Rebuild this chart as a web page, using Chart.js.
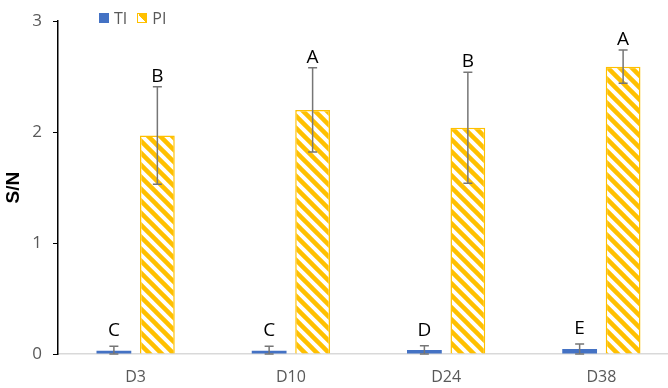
<!DOCTYPE html>
<html lang="en">

<head>
    <meta charset="UTF-8">
    <script src="https://cdn.jsdelivr.net/npm/chart.js"></script>
    <title>S/N by day</title>
    <style>
        html, body { margin: 0; padding: 0; background: #fff; overflow: hidden; width: 668px; height: 388px; }
        #wrap { position: relative; width: 680px; height: 388px; }
        #legend { position: absolute; left: 99px; top: 7px; font: 16px "Open Sans", "Liberation Sans", sans-serif; color: #595959; display: flex; align-items: center; }
        #legend span.box { display: inline-block; width: 10px; height: 10px; margin-right: 5px; box-sizing: border-box; }
        #legend span.lbl { margin-right: 10px; }
    </style>
</head>

<body>
    <div id="wrap">
        <canvas id="chart" width="680" height="388"></canvas>
        <div id="legend">
            <span class="box" style="background:#4472C4"></span><span class="lbl">TI</span>
            <span class="box" style="border:1.5px solid #FFC000;background:linear-gradient(45deg,#fff 50%,#FFC000 50%)"></span><span class="lbl">PI</span>
        </div>
    </div>

    <script>
        // data
        const categories = ['D3', 'D10', 'D24', 'D38'];
        const tiValues = [0.03, 0.03, 0.035, 0.045];
        const tiErrors = [0.04, 0.04, 0.04, 0.045];
        const tiLetters = ['C', 'C', 'D', 'E'];
        const piValues = [1.97, 2.20, 2.04, 2.59];
        const piErrors = [0.44, 0.38, 0.50, 0.15];
        const piLetters = ['B', 'A', 'B', 'A'];
        const yTicks = [0, 1, 2, 3];

        // striped fill like Excel's wide downward diagonal
        function makeStripes(color) {
            const n = 12;
            const c = document.createElement('canvas');
            c.width = n; c.height = n;
            const g = c.getContext('2d');
            g.fillStyle = '#fff';
            g.fillRect(0, 0, n, n);
            g.strokeStyle = color;
            g.lineWidth = 4.5;
            for (let k = -1; k <= 1; k++) {
                g.beginPath();
                g.moveTo(k * n - 2, -2);
                g.lineTo(k * n + n + 2, n + 2);
                g.stroke();
            }
            return g.createPattern(c, 'repeat');
        }

        const ctx = document.getElementById('chart').getContext('2d');
        const errors = [tiErrors, piErrors];
        const letters = [tiLetters, piLetters];
        const letterGap = [10, 5];

        // error bars + significance letters
        const errorBarPlugin = {
            id: 'errorBars',
            afterDatasetsDraw(chart) {
                const c = chart.ctx;
                const y = chart.scales.y;
                chart.data.datasets.forEach((ds, di) => {
                    const meta = chart.getDatasetMeta(di);
                    meta.data.forEach((bar, i) => {
                        const v = ds.data[i];
                        const e = errors[di][i];
                        const top = y.getPixelForValue(v + e);
                        const bot = y.getPixelForValue(Math.max(0, v - e));
                        c.save();
                        c.strokeStyle = '#767676';
                        c.lineWidth = 1.5;
                        c.beginPath();
                        c.moveTo(bar.x, top); c.lineTo(bar.x, bot);
                        c.moveTo(bar.x - 4.5, top); c.lineTo(bar.x + 4.5, top);
                        c.moveTo(bar.x - 4.5, bot); c.lineTo(bar.x + 4.5, bot);
                        c.stroke();
                        c.fillStyle = '#000';
                        c.font = '19px "Open Sans", "Liberation Sans", sans-serif';
                        c.textAlign = 'center';
                        c.textBaseline = 'alphabetic';
                        c.fillText(letters[di][i], bar.x, top - letterGap[di]);
                        c.restore();
                    });
                });
            }
        };

        new Chart(ctx, {
            type: 'bar',
            data: {
                labels: categories,
                datasets: [{
                    label: 'TI',
                    data: tiValues,
                    backgroundColor: '#4472C4',
                    borderWidth: 0,
                    barPercentage: 0.8,
                    categoryPercentage: 0.56
                }, {
                    label: 'PI',
                    data: piValues,
                    backgroundColor: makeStripes('#FFC000'),
                    borderColor: '#FFC000',
                    borderWidth: 1.5,
                    barPercentage: 0.8,
                    categoryPercentage: 0.56
                }]
            },
            options: {
                responsive: false,
                animation: false,
                layout: { padding: { top: 11, right: 1, left: 0, bottom: 0 } },
                plugins: {
                    legend: { display: false },
                    tooltip: { enabled: false }
                },
                scales: {
                    x: {
                        grid: { display: false, drawTicks: false },
                        border: { color: '#D9D9D9', width: 1.5 },
                        ticks: { color: '#595959', font: { size: 16, family: '"Open Sans", "Liberation Sans", sans-serif' }, padding: 14 },
                        afterFit(s) { s.height = 34; }
                    },
                    y: {
                        min: 0,
                        max: 3,
                        afterBuildTicks(s) { s.ticks = yTicks.map(v => ({ value: v })); },
                        grid: { drawOnChartArea: false, drawTicks: true, tickLength: 5, color: '#000' },
                        border: { color: '#000', width: 1.5 },
                        ticks: { color: '#595959', font: { size: 17, family: '"Open Sans", "Liberation Sans", sans-serif' }, padding: 11 },
                        title: {
                            display: true,
                            text: 'S/N',
                            color: '#000',
                            font: { size: 19, weight: 'bold', family: '"Liberation Sans", Arial, sans-serif' },
                            padding: { top: 2, bottom: 0 }
                        },
                        afterFit(s) { s.width = 58; }
                    }
                }
            },
            plugins: [errorBarPlugin]
        });
    </script>
</body>

</html>
